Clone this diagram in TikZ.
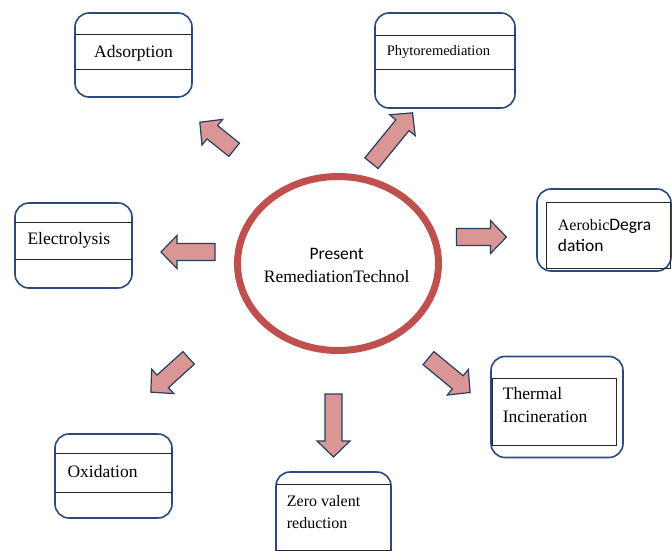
\documentclass[tikz,border=0pt]{standalone}
\usepackage{fontspec}
\setmainfont{Liberation Serif}
\newfontfamily\calfont{Carlito}
\usetikzlibrary{shapes.geometric}
\definecolor{arrowfill}{HTML}{D99694}
\definecolor{arrowline}{HTML}{243F60}
\definecolor{boxline}{HTML}{2A4A7F}
\definecolor{ringred}{HTML}{C0504D}
\newcommand\fatarrow[4]{%
  \draw[fatarr, shift={(#1,#2)}, rotate=#3]
    ({-#4/2},-8.5) -- ({#4/2-16},-8.5) -- ({#4/2-16},-16.5) -- ({#4/2},0)
    -- ({#4/2-16},16.5) -- ({#4/2-16},8.5) -- ({-#4/2},8.5) -- cycle;}
\begin{document}
\begin{tikzpicture}[x=1pt,y=-1pt,
  outerbox/.style={draw=boxline, line width=1.6pt, rounded corners=14pt, inner sep=0pt, fill=white},
  innerline/.style={draw=black!85, line width=1pt},
  innerrect/.style={draw=black!85, line width=1pt, inner sep=0pt},
  lbl/.style={inner sep=0pt, anchor=base west, font=\fontsize{17.5}{21}\selectfont},
  ring/.style={ellipse, draw=ringred, line width=7pt, inner sep=0pt},
  fatarr/.style={draw=arrowline, fill=arrowfill, line width=1.2pt, line join=miter}]
\useasboundingbox (0,0) rectangle (672,551);

% Adsorption
\node[outerbox, minimum width=117pt, minimum height=84pt] (adsB) at (133.5,55) {};
\draw[innerline] (75,35) -- (192,35) (75,70) -- (192,70);
\node[lbl, anchor=base] (adsT) at (133.5,58) {Adsorption};

% Phytoremediation
\node[outerbox, minimum width=140pt, minimum height=95pt] (phyB) at (445,60.5) {};
\draw[innerline] (375,36) -- (515,36) (375,70) -- (515,70);
\node[lbl, font=\fontsize{14.5}{17}\selectfont] (phyT) at (386.7,56) {Phytoremediation};

% Aerobic Degradation
\node[outerbox, minimum width=134pt, minimum height=82pt] (aerB) at (604,230) {};
\node[innerrect, minimum width=124pt, minimum height=66pt] (aerR) at (608,235) {};
\node[lbl] (aerT1) at (557.7,230) {{\fontsize{16}{18}\selectfont Aerobic}{\calfont Degra}};
\node[lbl, font=\calfont\fontsize{17.5}{21}\selectfont] (aerT2) at (557.7,251.7) {dation};

% Electrolysis
\node[outerbox, minimum width=117pt, minimum height=85pt] (eleB) at (73.5,245.5) {};
\draw[innerline] (15,222) -- (132,222) (15,259) -- (132,259);
\node[lbl] (eleT) at (27.3,244.3) {Electrolysis};

% Oxidation
\node[outerbox, minimum width=117pt, minimum height=84pt] (oxiB) at (113.5,476) {};
\draw[innerline] (55,453) -- (172,453) (55,492) -- (172,492);
\node[lbl] (oxiT) at (67.3,477.3) {Oxidation};

% Zero valent reduction
\node[outerbox, minimum width=115pt, minimum height=100pt] (zerB) at (333.5,522) {};
\draw[innerline] (276,484) -- (391,484) (276,550) -- (391,550);
\node[lbl, font=\fontsize{16}{19}\selectfont] (zerT1) at (286.7,506) {Zero valent};
\node[lbl, font=\fontsize{16}{19}\selectfont] (zerT2) at (286.7,528) {reduction};

% Thermal Incineration
\node[outerbox, minimum width=132pt, minimum height=101pt] (theB) at (557,407) {};
\node[innerrect, minimum width=124pt, minimum height=67pt] (theR) at (554,411.5) {};
\node[lbl] (theT1) at (502.7,399.3) {Thermal};
\node[lbl] (theT2) at (502.7,422.7) {Incineration};

% Centre
\node[ring, minimum width=201pt, minimum height=174pt] (core) at (338,263.5) {};
\node[lbl, anchor=base, font=\calfont\fontsize{17.5}{21}\selectfont] (coreT1) at (336.7,259) {Present};
\node[lbl, anchor=base] (coreT2) at (336.7,282.7) {RemediationTechnol};

% Arrows
\fatarrow{217}{136}{141.3}{44}
\fatarrow{392}{138}{50.8}{65}
\fatarrow{481.5}{237}{0}{50}
\fatarrow{188}{252}{180}{54}
\fatarrow{169.75}{375}{222.2}{51}
\fatarrow{333.5}{425.5}{270}{63}
\fatarrow{449.3}{375.3}{-39.5}{54}
\end{tikzpicture}
\end{document}
